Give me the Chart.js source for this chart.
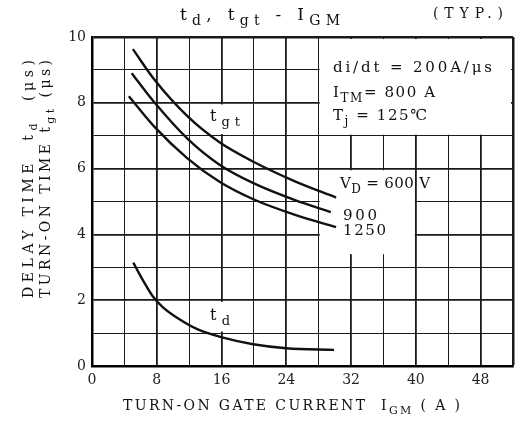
<!DOCTYPE html>
<html>
<head>
<meta charset="utf-8">
<script src="https://cdn.jsdelivr.net/npm/chart.js@4/dist/chart.umd.min.js"></script>
<style>
html,body{margin:0;padding:0;background:#fff;}
#wrap{width:523px;height:428px;}
</style>
</head>
<body>
<div id="wrap"><canvas id="c" width="523" height="428"></canvas></div>
<script>
// ---- data ----
const igm600  = [5.05, 7.75, 11.75, 15.75, 20, 25, 30.15];
const tgt600  = [9.63, 8.69, 7.6, 6.8, 6.2, 5.62, 5.12];
const igm900  = [4.9, 7.75, 11.75, 15.75, 20, 25, 29.5];
const tgt900  = [8.9, 8.0, 6.92, 6.12, 5.55, 5.05, 4.68];
const igm1250 = [4.55, 7.75, 11.75, 15.75, 20, 25, 30.15];
const tgt1250 = [8.2, 7.26, 6.32, 5.6, 5.06, 4.6, 4.22];
const igmTd   = [5.1, 6.3, 7.5, 8.7, 10.8, 13, 16.2, 19.9, 24, 29.9];
const tdVals  = [3.14, 2.6, 2.12, 1.8, 1.42, 1.12, 0.86, 0.66, 0.54, 0.49];

const xTickStep = 4, xLabelStep = 8, xMin = 0, xMax = 52;
const yTickStep = 1, yLabelStep = 2, yMin = 0, yMax = 10;

// rich texts: [text, 'n' normal | 's' subscript]
const titleText  = [['t','n'],['d','s'],[', t','n'],['gt','s'],[' - I','n'],['GM','s']];
const typText    = [['(TYP.)','n']];
const xTitleText = [['TURN-ON GATE CURRENT  I','n'],['GM','s'],[' ( A )','n']];
const yTitle1    = [['DELAY TIME  t','n'],['d','s'],['  (μs)','n']];
const yTitle2    = [['TURN-ON TIME t','n'],['gt','s'],[' (μs)','n']];
const cond1 = [['di/dt = 200A/μs','n']];
const cond2 = [['I','n'],['TM','s'],['= 800 A','n']];
const cond3 = [['T','n'],['j','s'],[' = 125℃','n']];
const lblTgt = [['t','n'],['gt','s']];
const lblTd  = [['t','n'],['d','s']];
const lbl600 = [['V','n'],['D','s'],[' = 600 V','n']];
const lbl900 = [['900','n']];
const lbl1250 = [['1250','n']];

function pts(xs, ys){ return xs.map((x,i)=>({x:x, y:ys[i]})); }

const FONT = '"DejaVu Serif", "Liberation Serif", serif';

// draw segments, stretching letter spacing so the text spans `width` px
function drawRich(ctx, segs, x, y, size, width){
  ctx.save();
  ctx.textBaseline = 'alphabetic';
  ctx.textAlign = 'left';
  ctx.fillStyle = '#111';
  const fontFor = k => (k === 's' ? Math.round(size*0.8) : size) + 'px ' + FONT;
  ctx.letterSpacing = '0px';
  let natural = 0, n = 0;
  for (const [t, k] of segs){ ctx.font = fontFor(k); natural += ctx.measureText(t).width; n += [...t].length; }
  const sp = width ? Math.max(0, (width - natural) / Math.max(1, n - 1)) : 1;
  ctx.letterSpacing = sp + 'px';
  let cx = x;
  for (const [t, k] of segs){
    ctx.font = fontFor(k);
    ctx.fillText(t, cx, k === 's' ? y + size*0.3 : y);
    cx += ctx.measureText(t).width;
  }
  ctx.restore();
}

const overlay = {
  id: 'overlay',
  beforeDatasetsDraw(chart){
    const ctx = chart.ctx, xs = chart.scales.x, ys = chart.scales.y;
    const X = v => xs.getPixelForValue(v), Y = v => ys.getPixelForValue(v);
    ctx.save();
    ctx.fillStyle = '#fff';
    ctx.fillRect(X(28)+1, Y(10)+2, X(52)-X(28)-3, Y(7)-Y(10)-3);
    ctx.fillRect(X(28)+1, Y(5.95), X(40)-X(28)-2, Y(3.4)-Y(5.95));
    ctx.fillRect(X(12)+1, Y(7.95), X(20)-X(12)-2, Y(7.05)-Y(7.95));
    ctx.fillRect(X(14), Y(1.95), X(18)-X(14), Y(1.05)-Y(1.95));
    ctx.restore();
  },
  afterDraw(chart){
    const ctx = chart.ctx;
    drawRich(ctx, titleText, 180, 20, 17, 160);
    drawRich(ctx, typText, 433, 18, 14, 70);
    drawRich(ctx, xTitleText, 123, 410, 14, 337);
    ctx.save(); ctx.translate(33, 298); ctx.rotate(-Math.PI/2);
    drawRich(ctx, yTitle1, 0, 0, 14, 238); ctx.restore();
    ctx.save(); ctx.translate(50, 298); ctx.rotate(-Math.PI/2);
    drawRich(ctx, yTitle2, 0, 0, 14, 238); ctx.restore();
    drawRich(ctx, cond1, 333, 72, 15, 159);
    drawRich(ctx, cond2, 333, 97, 15, 102);
    drawRich(ctx, cond3, 333, 120, 15, 94);
    drawRich(ctx, lblTgt, 210, 121, 16, 30);
    drawRich(ctx, lblTd, 210, 320, 16, 20);
    drawRich(ctx, lbl600, 340, 188, 15, 90);
    drawRich(ctx, lbl900, 343, 220, 15, 34);
    drawRich(ctx, lbl1250, 343, 235, 15, 43);
  }
};

const lineStyle = {borderColor:'#111', borderWidth:2.4, pointRadius:0, fill:false, cubicInterpolationMode:'monotone'};

new Chart(document.getElementById('c'), {
  type: 'line',
  data: {
    datasets: [
      Object.assign({label:'600', data: pts(igm600, tgt600)}, lineStyle),
      Object.assign({label:'900', data: pts(igm900, tgt900)}, lineStyle),
      Object.assign({label:'1250', data: pts(igm1250, tgt1250)}, lineStyle),
      Object.assign({label:'td', data: pts(igmTd, tdVals)}, lineStyle)
    ]
  },
  options: {
    responsive: false,
    animation: false,
    layout: {padding: {left: 0, right: 10, top: 37, bottom: 0}},
    plugins: {legend: {display:false}, tooltip:{enabled:false}, title:{display:false}},
    scales: {
      x: {
        type: 'linear', min: xMin, max: xMax,
        afterFit(s){ s.height = 62; },
        border: {display:true, color:'#000', width:2.5},
        grid: {
          drawTicks: false,
          color: '#1a1a1a',
          lineWidth: c => { const v = c.tick ? c.tick.value : 0; if (v === xMax) return 2.5; return v % xLabelStep === 0 ? 1.8 : 1; }
        },
        ticks: {
          stepSize: xTickStep, autoSkip: false, maxRotation: 0, padding: 6, color: '#222',
          font: {family: FONT, size: 14},
          callback: v => (v % xLabelStep === 0 && v < xMax) ? String(v) : ''
        }
      },
      y: {
        type: 'linear', min: yMin, max: yMax,
        afterFit(s){ s.width = 92; },
        border: {display:true, color:'#000', width:2.5},
        grid: {
          drawTicks: false,
          color: '#1a1a1a',
          lineWidth: c => { const v = c.tick ? c.tick.value : 0; if (v === yMax) return 2.5; return v % yLabelStep === 0 ? 1.8 : 1; }
        },
        ticks: {
          stepSize: yTickStep, autoSkip: false, padding: 6, color: '#222',
          font: {family: FONT, size: 14},
          callback: v => (v % yLabelStep === 0) ? String(v) : ''
        }
      }
    }
  },
  plugins: [overlay]
});
</script>
</body>
</html>
